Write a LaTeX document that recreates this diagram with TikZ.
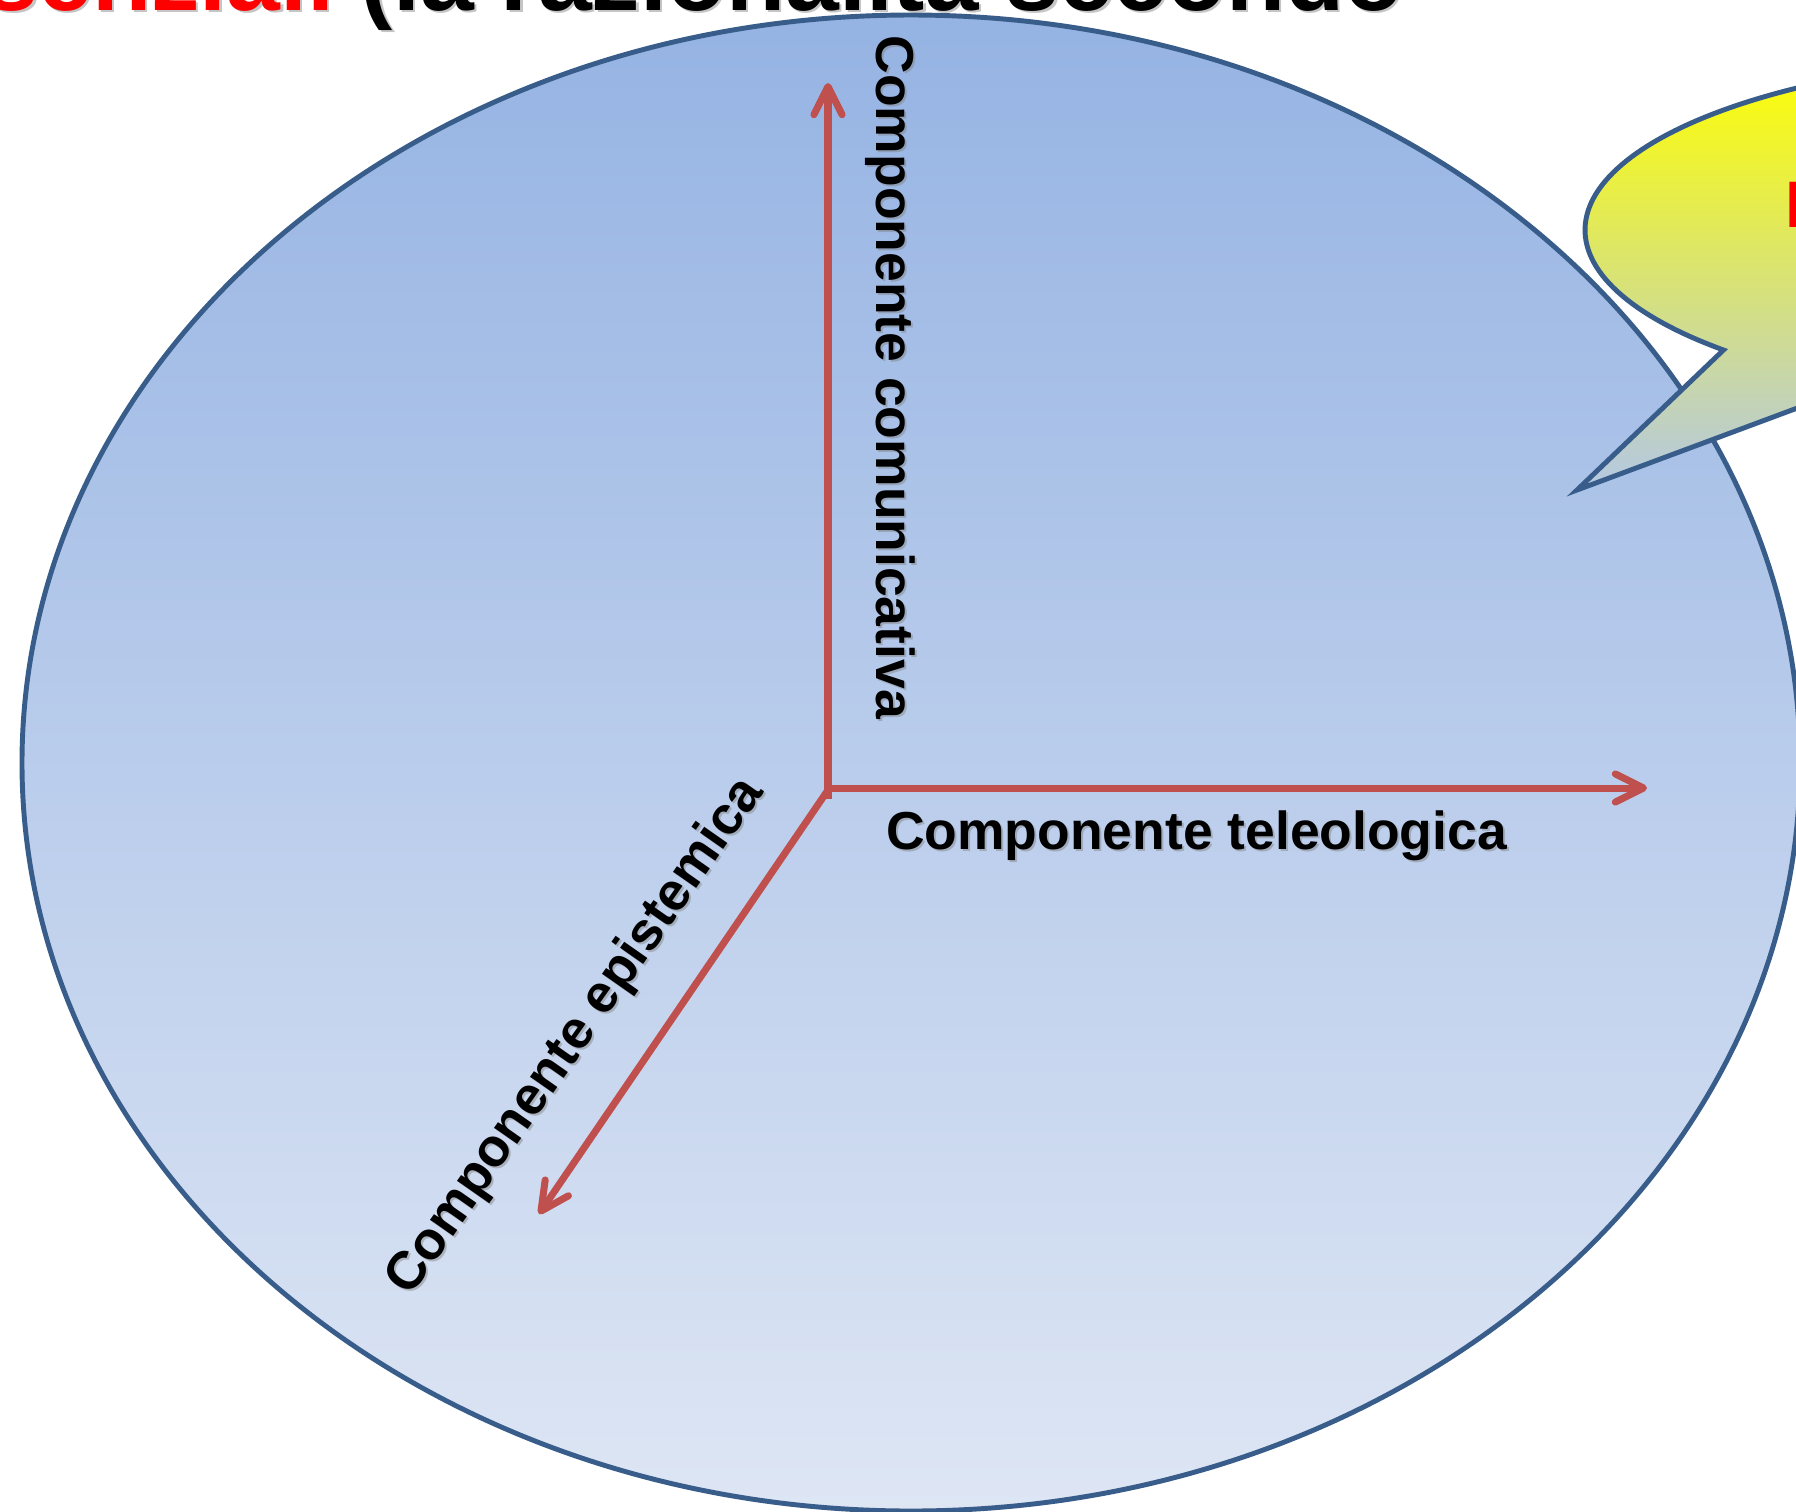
\documentclass[tikz,border=0pt]{standalone}
\usepackage{fontspec}
\setmainfont{Liberation Sans}
\usetikzlibrary{arrows.meta}
\definecolor{ellfillT}{RGB}{149,179,227}
\definecolor{ellfillB}{RGB}{222,230,244}
\definecolor{ellline}{RGB}{56,93,138}
\definecolor{axisred}{RGB}{192,80,77}
\definecolor{calloutT}{RGB}{255,255,0}
\definecolor{calloutB}{RGB}{180,200,228}
\definecolor{titlered}{RGB}{255,0,0}
\begin{document}
\begin{tikzpicture}[x=0.01cm,y=-0.01cm,
  axisline/.style={draw=axisred, line width=2pt},
  axisarrow/.style={axisline, -{Straight Barb[length=8pt,width=8pt,round]}},
  lbl/.style={font=\bfseries\fontsize{15.2pt}{18pt}\selectfont, inner sep=0pt, text=black},
  lblsh/.style={lbl, text=black!50, opacity=0.45},
  titlefont/.style={font=\bfseries\fontsize{27.5pt}{32pt}\selectfont, inner sep=0pt},
]
\useasboundingbox (0,0) rectangle (1796,1511);
\clip (0,0) rectangle (1796,1511);
\fill[white] (0,0) rectangle (1796,1511);

% big ellipse
\shadedraw[top color=ellfillT, bottom color=ellfillB, draw=ellline, line width=1.4pt]
  (911,763) ellipse [x radius=889, y radius=748];

% title (cut at top)
\node[titlefont, anchor=base west, text=black!50, opacity=0.45] (titlesh) at (-13.5,12.5) {senziali (la razionalità secondo};
\node[titlefont, anchor=base west] (title) at (-16,10) {\textcolor{titlered}{senziali} (la razionalità secondo};

% callout
\coordinate (ctip) at (1577,490);
\shadedraw[top color=calloutT, bottom color=calloutB, draw=ellline, line width=1.4pt, line join=miter]
  plot[domain=136.4:477, samples=240] ({2087+502*cos(\x)},{230+174*sin(\x)}) -- (ctip) -- cycle;
\node[anchor=base west, inner sep=0pt, font=\bfseries\fontsize{18.7pt}{22pt}\selectfont, text=titlered] (cltext) at (1785,227) {I};

% axes
\coordinate (O) at (828,788);
\coordinate (Ostub) at (828,799);
\coordinate (tipC) at (828,83);
\coordinate (tipT) at (1647,788);
\coordinate (tipE) at (539,1214);
\draw[axisarrow] (Ostub) -- (tipC);
\draw[axisarrow] (O) -- (tipT);
\draw[axisarrow] (828,790) -- (tipE);

% labels
\node[lblsh, anchor=base west] (telesh) at (887.5,851) {Componente teleologica};
\node[lbl, anchor=base west] (tele) at (885.5,849) {Componente teleologica};
\node[lblsh, rotate=-90, anchor=base west] (commsh) at (878,37) {Componente comunicativa};
\node[lbl, rotate=-90, anchor=base west] (comm) at (876,35) {Componente comunicativa};
\node[lblsh, rotate=55] (epish) at (578,1039) {Componente epistemica};
\node[lbl, rotate=55] (epi) at (576,1037) {Componente epistemica};
\end{tikzpicture}
\end{document}
